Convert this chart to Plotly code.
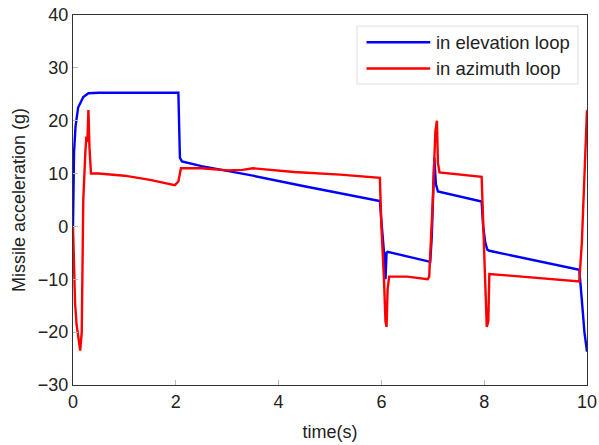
import plotly.graph_objects as go

# Elevation loop (blue) breakpoints
t_elev = [0, 0.02, 0.05, 0.1, 0.2, 0.3, 0.5, 2.05, 2.08, 2.12, 2.5, 3.5, 4.5, 5.5, 5.97,
          6.0, 6.03, 6.06, 6.08, 6.1, 6.12, 6.95,
          6.98, 7.0, 7.03, 7.06, 7.1, 7.95,
          7.98, 8.02, 8.06, 8.1, 9.85,
          9.9, 9.95, 10.0]
g_elev = [0, 14, 19, 22.5, 24.5, 25.2, 25.3, 25.3, 13, 12.3, 11.4, 9.6, 7.6, 5.7, 4.8,
          1, -2, -6, -10, -5, -4.8, -6.7,
          -2, 6, 13, 8, 6.6, 4.7,
          0, -3, -4.4, -4.6, -8.2,
          -14, -20, -23.7]

# Azimuth loop (red)
t_azim = [0, 0.02, 0.04, 0.07, 0.1, 0.14, 0.17, 0.19, 0.2, 0.24, 0.26, 0.28, 0.3, 0.32, 0.35,
          0.5, 1.0, 1.5, 1.98, 2.05, 2.1, 2.5, 3.0, 3.3, 3.5, 4.3, 5.2, 5.97,
          6.0, 6.05, 6.08, 6.1, 6.12, 6.15, 6.5, 6.9, 6.93,
          7.0, 7.05, 7.08, 7.1, 7.13, 7.95,
          8.0, 8.05, 8.08, 8.1, 8.5, 9.85,
          9.9, 9.95, 10.0]
g_azim = [0, -8, -14.5, -18.6, -21, -23.5, -20, -6, 5, 14, 17, 16, 22, 15, 10,
          10, 9.6, 8.8, 7.8, 8.5, 11, 11, 10.6, 10.7, 11, 10.3, 9.8, 9.2,
          0, -10, -18, -19, -12, -9.5, -9.5, -10, -9.5,
          5, 18, 20, 12, 10.2, 9.4,
          -5, -19, -18, -9, -9.3, -10.4,
          -3, 10, 22]

series_names = ["in elevation loop", "in azimuth loop"]
series_colors = ["#0000ff", "#ff0000"]

x_ticks = [0, 2, 4, 6, 8, 10]
y_ticks = [-30, -20, -10, 0, 10, 20, 30, 40]

FONT = "Liberation Sans, Arial, sans-serif"

fig = go.Figure()
fig.add_trace(go.Scatter(x=t_elev, y=g_elev, mode="lines", name=series_names[0],
                         line=dict(color=series_colors[0], width=2.4), showlegend=False))
fig.add_trace(go.Scatter(x=t_azim, y=g_azim, mode="lines", name=series_names[1],
                         line=dict(color=series_colors[1], width=2.4), showlegend=False))

# Manual legend (MATLAB style)
lx0, lx1 = 0.5525, 0.9825
ly0, ly1 = 0.8135, 0.970
fig.add_shape(type="rect", xref="paper", yref="paper", x0=lx0, x1=lx1, y0=ly0, y1=ly1,
              line=dict(color="#dddddd", width=1), fillcolor="white", layer="above")
for i, (nm, col) in enumerate(zip(series_names, series_colors)):
    yy = [0.9265, 0.8555][i]
    fig.add_shape(type="line", xref="paper", yref="paper", x0=0.571, x1=0.695, y0=yy, y1=yy,
                  line=dict(color=col, width=2.4), layer="above")
    fig.add_annotation(xref="paper", yref="paper", x=0.703, y=yy, text=nm, showarrow=False,
                       xanchor="left", yanchor="middle",
                       font=dict(family=FONT, size=18.5, color="#222222"))

axis_common = dict(showline=True, linecolor="#333333", linewidth=1.2, mirror=True,
                   ticks="inside", ticklen=5, tickcolor="#bbbbbb", showgrid=False,
                   zeroline=False, automargin=False,
                   tickfont=dict(family=FONT, size=18, color="#222222"))

fig.update_xaxes(range=[0, 10], tickvals=x_ticks,
                 title=dict(text="time(s)", font=dict(family=FONT, size=18, color="#222222"),
                            standoff=14), **axis_common)
fig.update_yaxes(range=[-30, 40], tickvals=y_ticks,
                 title=dict(text="Missile acceleration (g)",
                            font=dict(family=FONT, size=18, color="#222222"), standoff=7),
                 **axis_common)

fig.update_layout(width=599, height=445, margin=dict(l=73, r=12, t=15, b=60),
                  plot_bgcolor="white", paper_bgcolor="white", showlegend=False)

fig.write_html("out.html", config={"displayModeBar": False},
               post_script="document.body.style.margin='0';document.body.style.padding='0';")
